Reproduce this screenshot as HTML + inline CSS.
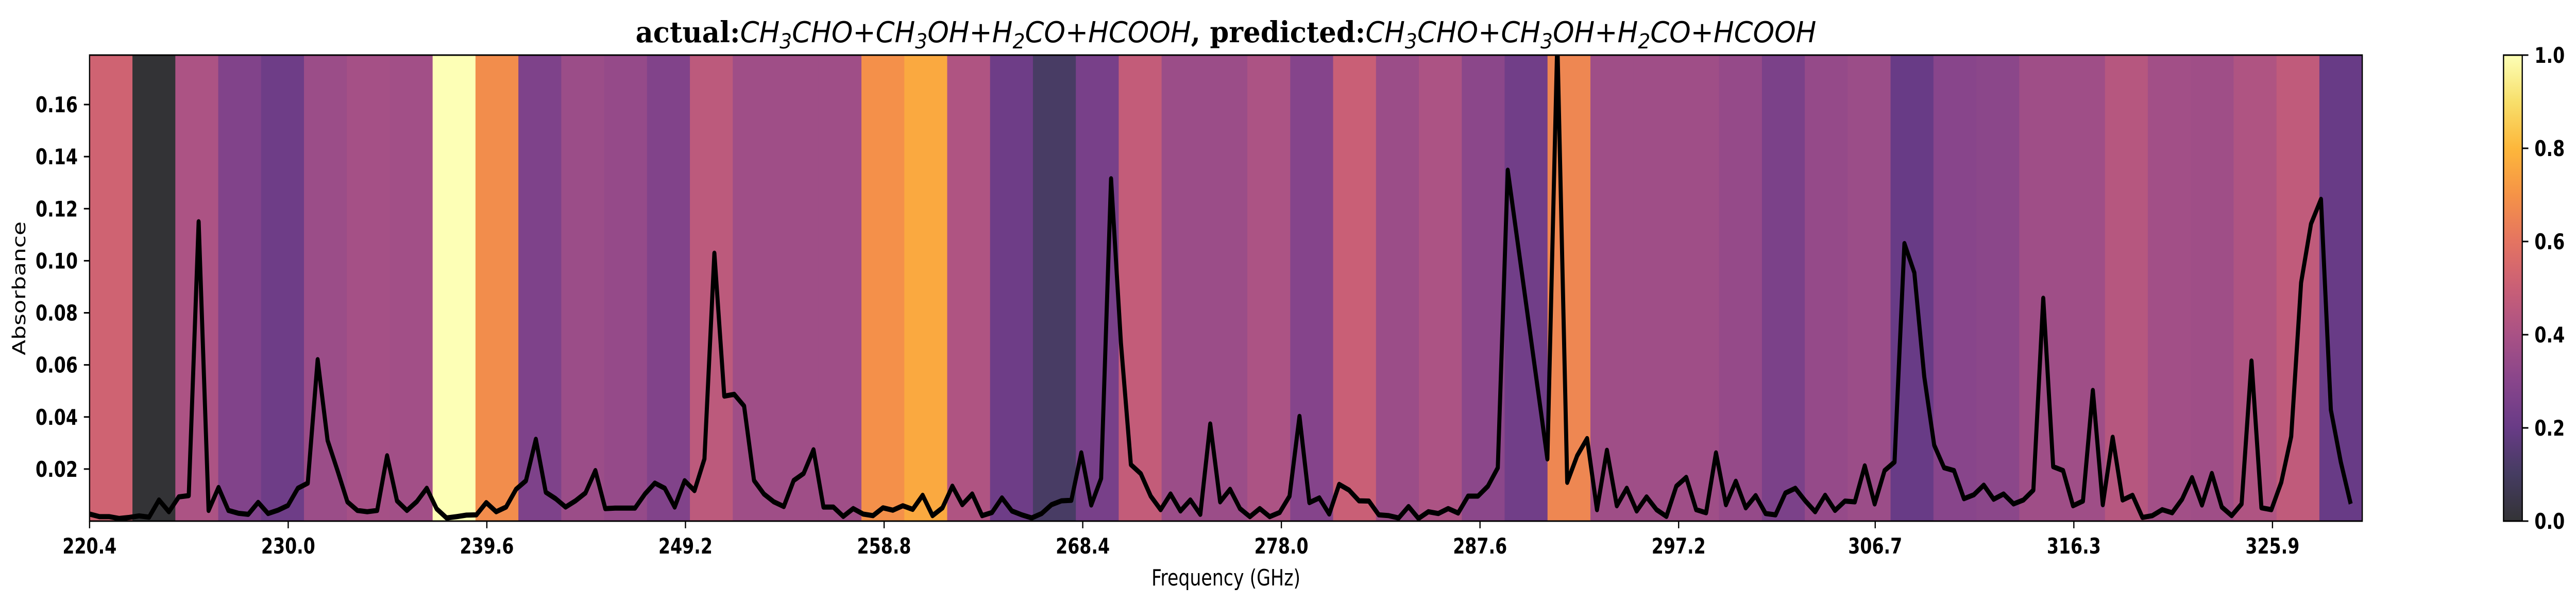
<!DOCTYPE html>
<html><head><meta charset="utf-8"><style>html,body{margin:0;padding:0;background:#fff;width:100%;height:100%;overflow:hidden}svg{display:block;width:100vw;height:100vh}</style></head>
<body>
<svg id="chart" xmlns="http://www.w3.org/2000/svg" viewBox="0 0 6327 1173" preserveAspectRatio="none">
<rect width="6327" height="1173" fill="#fff"/>
<g id="bands"></g>
<g id="line"></g>
<g id="axes"></g>
<g id="cbar"></g>
<text x="3011" y="82" text-anchor="middle" textLength="2900" lengthAdjust="spacingAndGlyphs" font-size="56" fill="#000"><tspan font-family="DejaVu Serif, Liberation Serif, serif" font-weight="bold">actual:</tspan><tspan font-family="DejaVu Sans, Liberation Sans, sans-serif" font-style="italic">CH<tspan font-size="40" dy="12">3</tspan><tspan dy="-12">CHO+CH</tspan><tspan font-size="40" dy="12">3</tspan><tspan dy="-12">OH+H</tspan><tspan font-size="40" dy="12">2</tspan><tspan dy="-12">CO+HCOOH</tspan></tspan><tspan font-family="DejaVu Serif, Liberation Serif, serif" font-weight="bold">, predicted:</tspan><tspan font-family="DejaVu Sans, Liberation Sans, sans-serif" font-style="italic">CH<tspan font-size="40" dy="12">3</tspan><tspan dy="-12">CHO+CH</tspan><tspan font-size="40" dy="12">3</tspan><tspan dy="-12">OH+H</tspan><tspan font-size="40" dy="12">2</tspan><tspan dy="-12">CO+HCOOH</tspan></tspan></text>
<text x="3011" y="1137" text-anchor="middle" font-family="DejaVu Sans, Liberation Sans, sans-serif" font-size="44">Frequency (GHz)</text>
<text transform="translate(62,560) rotate(-90)" text-anchor="middle" font-family="DejaVu Sans, Liberation Sans, sans-serif" font-size="44">Absorbance</text>
</svg>
<script>
const bandValues = [0.52,0,0.41,0.28,0.22,0.36,0.39,0.38,1.0,0.68,0.27,0.36,0.34,0.28,0.46,0.37,0.37,0.37,0.69,0.76,0.42,0.22,0.11,0.25,0.48,0.36,0.36,0.41,0.29,0.5,0.36,0.41,0.31,0.23,0.66,0.37,0.37,0.37,0.34,0.26,0.34,0.36,0.2,0.3,0.31,0.37,0.37,0.44,0.38,0.37,0.42,0.47,0.2];
const absorbance = [0.0027,0.0017,0.0017,0.001,0.0014,0.002,0.0015,0.0081,0.0036,0.0093,0.0098,0.115,0.0041,0.0129,0.0041,0.003,0.0026,0.0072,0.0029,0.0042,0.006,0.0126,0.0146,0.062,0.031,0.0194,0.0074,0.0041,0.0036,0.0041,0.0251,0.0078,0.0041,0.0075,0.0126,0.0047,0.0012,0.0017,0.0023,0.0024,0.0071,0.0036,0.0054,0.0122,0.0155,0.0314,0.0111,0.0086,0.0054,0.0078,0.0108,0.0194,0.0048,0.005,0.005,0.005,0.0104,0.0146,0.0126,0.0054,0.0155,0.0117,0.0239,0.1029,0.048,0.0487,0.0442,0.0156,0.0104,0.0074,0.0056,0.0156,0.0183,0.0274,0.0054,0.0054,0.0018,0.0048,0.0027,0.0021,0.0051,0.0042,0.0059,0.0045,0.0099,0.0021,0.0051,0.0134,0.0063,0.0104,0.0021,0.0033,0.0089,0.0039,0.0024,0.0012,0.0029,0.0063,0.0078,0.008,0.0262,0.0062,0.0164,0.1315,0.0683,0.0217,0.0182,0.0096,0.0044,0.0104,0.0039,0.0081,0.0026,0.0373,0.0074,0.0122,0.0048,0.0017,0.0048,0.0017,0.0033,0.0096,0.0402,0.0071,0.0089,0.0027,0.0141,0.0119,0.0078,0.0077,0.0024,0.0021,0.0012,0.0056,0.001,0.0036,0.0029,0.0048,0.0031,0.0096,0.0096,0.0134,0.0205,0.1348,0.107,0.0794,0.0516,0.0239,0.185,0.0149,0.0251,0.0317,0.0044,0.0272,0.0059,0.0126,0.0039,0.0093,0.0044,0.0018,0.0134,0.0168,0.0044,0.0032,0.0262,0.0063,0.0153,0.0051,0.0098,0.0029,0.0024,0.0108,0.0126,0.0078,0.0036,0.0099,0.0041,0.0077,0.0074,0.0212,0.0066,0.0194,0.0227,0.1066,0.0954,0.0555,0.0292,0.0205,0.0194,0.0086,0.0101,0.0138,0.0084,0.0104,0.0066,0.0081,0.0119,0.0856,0.0209,0.0194,0.0059,0.0077,0.0502,0.0063,0.0322,0.0081,0.0099,0.0014,0.0021,0.0044,0.0032,0.0084,0.0167,0.0062,0.0183,0.0054,0.0021,0.0066,0.0615,0.0051,0.0044,0.0149,0.0325,0.0916,0.1142,0.1236,0.0427,0.0227,0.0066];
const xTickLabels = ["220.4","230.0","239.6","249.2","258.8","268.4","278.0","287.6","297.2","306.7","316.3","325.9"];
const xTickValues = [220.4,230.0,239.6,249.2,258.8,268.4,278.0,287.6,297.2,306.7,316.3,325.9];
const yTickValues = [0.02,0.04,0.06,0.08,0.10,0.12,0.14,0.16];
const yTickLabels = ["0.02","0.04","0.06","0.08","0.10","0.12","0.14","0.16"];
const cbarTickValues = [0,0.2,0.4,0.6,0.8,1.0];
const cbarTickLabels = ["0.0","0.2","0.4","0.6","0.8","1.0"];
const freqStart = 220.4, freqStep = 0.4793;

const NS = "http://www.w3.org/2000/svg";
const L = 220, R = 5802, T = 107, B = 1012;
const xMin = 220.4, pxPerGHz = 50.82;
const yMin = 0, yMax = (B - T) / 5056;
const xs = v => L + (v - xMin) * pxPerGHz;
const ys = v => B - (v - yMin) / (yMax - yMin) * (B - T);
const inf = [[0,0,4],[22,11,57],[66,10,104],[106,23,110],[147,38,103],[188,55,84],[221,81,58],[243,120,25],[252,165,10],[246,215,70],[252,255,164]];
function cmap(v){
  v = Math.max(0, Math.min(1, v)) * 10;
  const i = Math.min(9, Math.floor(v)), f = v - i;
  const c = inf[i].map((a, k) => a + (inf[i+1][k] - a) * f);
  return "rgb(" + c.map(a => Math.round(a * 0.8 + 51)).join(",") + ")";
}
function mk(tag, attrs, parent){
  const e = document.createElementNS(NS, tag);
  for (const k in attrs) e.setAttribute(k, attrs[k]);
  parent.appendChild(e);
  return e;
}
const bands = document.getElementById("bands");
const bw = (R - L) / bandValues.length;
bandValues.forEach((v, i) => {
  const r = mk("rect", {x: L + i * bw, y: T, width: bw + 0.6, height: B - T, fill: cmap(v)}, bands);
  
  
});
const lineG = document.getElementById("line");
const clip = mk("clipPath", {id: "pc"}, lineG);
mk("rect", {x: L, y: T, width: R - L, height: B - T}, clip);
const pts = absorbance.map((a, i) => xs(freqStart + i * freqStep).toFixed(1) + "," + ys(a).toFixed(1)).join(" ");
const pl = mk("polyline", {points: pts, fill: "none", stroke: "#000", "stroke-width": 10, "stroke-linejoin": "round", "clip-path": "url(#pc)"}, lineG);


const axes = document.getElementById("axes");
const frame = mk("rect", {x: L, y: T, width: R - L, height: B - T, fill: "none", stroke: "#000", "stroke-width": 3}, axes);


xTickValues.forEach((v, i) => {
  const x = xs(v);
  const t = mk("line", {x1: x, x2: x, y1: B, y2: B + 14, stroke: "#000", "stroke-width": 3}, axes);
  
  
  const tx = mk("text", {x: x, y: 1075, "text-anchor": "middle", "font-family": "DejaVu Sans, Liberation Sans, sans-serif", "font-weight": "bold", "font-size": 42}, axes);
  tx.textContent = xTickLabels[i];
  
  
});
yTickValues.forEach((v, i) => {
  const y = ys(v);
  const t = mk("line", {x1: L - 14, x2: L, y1: y, y2: y, stroke: "#000", "stroke-width": 3}, axes);
  
  
  const tx = mk("text", {x: 191, y: y + 15, "text-anchor": "end", "font-family": "DejaVu Sans, Liberation Sans, sans-serif", "font-weight": "bold", "font-size": 42}, axes);
  tx.textContent = yTickLabels[i];
  
  
});
const cb = document.getElementById("cbar");
const CL = 6149, CR = 6195;
const defs = mk("defs", {}, cb);
const grad = mk("linearGradient", {id: "cg", x1: 0, y1: 1, x2: 0, y2: 0}, defs);
for (let k = 0; k <= 20; k++) mk("stop", {offset: k / 20, "stop-color": cmap(k / 20)}, grad);
const cr = mk("rect", {x: CL, y: T, width: CR - CL, height: B - T, fill: "url(#cg)", stroke: "#000", "stroke-width": 3}, cb);


cbarTickValues.forEach((v, i) => {
  const y = B - v * (B - T);
  const t = mk("line", {x1: CR, x2: CR + 15, y1: y, y2: y, stroke: "#000", "stroke-width": 3}, cb);
  
  
  const tx = mk("text", {x: 6225, y: y + 15, "font-family": "DejaVu Sans, Liberation Sans, sans-serif", "font-weight": "bold", "font-size": 42}, cb);
  tx.textContent = cbarTickLabels[i];
  
  
});
</script>
</body></html>
